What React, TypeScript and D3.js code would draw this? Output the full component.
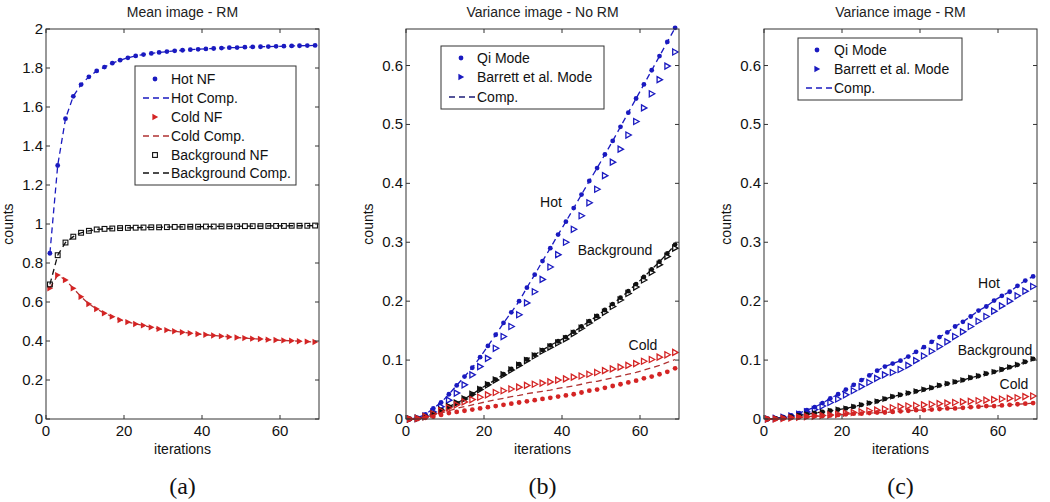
import React from "react";
import * as d3 from "d3";

// ---------- data ----------
const ITER = [1, 3, 5, 7, 9, 11, 13, 15, 17, 19, 21, 23, 25, 27, 29, 31, 33, 35, 37, 39, 41, 43, 45, 47, 49, 51, 53, 55, 57, 59, 61, 63, 65, 67, 69];

const X_TICKS = [0, 20, 40, 60];
const X_TICK_LABELS = ["0", "20", "40", "60"];
const Y_TICKS_A = [0, 0.2, 0.4, 0.6, 0.8, 1, 1.2, 1.4, 1.6, 1.8, 2];
const Y_TICK_LABELS_A = ["0", "0.2", "0.4", "0.6", "0.8", "1", "1.2", "1.4", "1.6", "1.8", "2"];
const Y_TICKS_BC = [0, 0.1, 0.2, 0.3, 0.4, 0.5, 0.6];
const Y_TICK_LABELS_BC = ["0", "0.1", "0.2", "0.3", "0.4", "0.5", "0.6"];

// (a) Mean image - RM
const A_HOT = [0.85, 1.30, 1.54, 1.655, 1.715, 1.755, 1.785, 1.805, 1.825, 1.84, 1.852, 1.862, 1.869, 1.875, 1.88, 1.884, 1.888, 1.891, 1.894, 1.896, 1.898, 1.9, 1.902, 1.904, 1.905, 1.907, 1.908, 1.909, 1.91, 1.911, 1.912, 1.913, 1.914, 1.915, 1.916];
const A_COLD = [0.67, 0.738, 0.713, 0.67, 0.627, 0.59, 0.564, 0.542, 0.525, 0.508, 0.497, 0.487, 0.48, 0.47, 0.462, 0.456, 0.45, 0.445, 0.44, 0.436, 0.432, 0.428, 0.425, 0.421, 0.418, 0.415, 0.412, 0.41, 0.407, 0.405, 0.403, 0.401, 0.399, 0.397, 0.395];
const A_BG = [0.69, 0.84, 0.905, 0.935, 0.955, 0.965, 0.972, 0.975, 0.977, 0.979, 0.98, 0.981, 0.982, 0.983, 0.983, 0.984, 0.985, 0.985, 0.986, 0.986, 0.987, 0.987, 0.988, 0.988, 0.988, 0.989, 0.989, 0.989, 0.99, 0.99, 0.99, 0.991, 0.991, 0.991, 0.992];

// (b) Variance image - No RM
const B_HOT_QI = [0, 0.002, 0.008, 0.018, 0.028, 0.042, 0.057, 0.072, 0.087, 0.105, 0.124, 0.143, 0.163, 0.181, 0.2, 0.223, 0.245, 0.268, 0.29, 0.313, 0.335, 0.358, 0.381, 0.404, 0.426, 0.449, 0.472, 0.496, 0.52, 0.544, 0.568, 0.592, 0.616, 0.64, 0.664];
const B_HOT_BAR = [0, 0.001, 0.005, 0.012, 0.021, 0.032, 0.044, 0.058, 0.075, 0.089, 0.103, 0.12, 0.14, 0.157, 0.177, 0.197, 0.216, 0.237, 0.258, 0.279, 0.3, 0.322, 0.345, 0.367, 0.39, 0.413, 0.436, 0.458, 0.482, 0.505, 0.528, 0.552, 0.576, 0.599, 0.623];
const B_BG_QI = [0, 0.001, 0.004, 0.009, 0.015, 0.021, 0.027, 0.034, 0.042, 0.051, 0.059, 0.067, 0.076, 0.085, 0.093, 0.101, 0.109, 0.117, 0.125, 0.132, 0.139, 0.148, 0.157, 0.166, 0.175, 0.185, 0.195, 0.206, 0.217, 0.229, 0.241, 0.254, 0.267, 0.281, 0.296];
const B_BG_BAR = [0, 0.001, 0.004, 0.009, 0.015, 0.021, 0.027, 0.034, 0.042, 0.05, 0.058, 0.066, 0.075, 0.083, 0.091, 0.099, 0.107, 0.115, 0.122, 0.129, 0.136, 0.145, 0.154, 0.163, 0.172, 0.181, 0.191, 0.202, 0.213, 0.224, 0.236, 0.249, 0.262, 0.276, 0.29];
const B_COLD_QI = [0, 0, 0.002, 0.004, 0.007, 0.01, 0.012, 0.014, 0.016, 0.018, 0.02, 0.022, 0.024, 0.026, 0.028, 0.03, 0.032, 0.034, 0.036, 0.038, 0.04, 0.042, 0.045, 0.048, 0.05, 0.053, 0.056, 0.059, 0.062, 0.065, 0.069, 0.072, 0.076, 0.08, 0.086];
const B_COLD_BAR = [0, 0.001, 0.004, 0.009, 0.014, 0.019, 0.024, 0.029, 0.033, 0.037, 0.041, 0.045, 0.048, 0.051, 0.054, 0.057, 0.059, 0.061, 0.063, 0.066, 0.068, 0.071, 0.073, 0.076, 0.079, 0.082, 0.085, 0.088, 0.091, 0.094, 0.098, 0.101, 0.105, 0.109, 0.113];
const B_COLD_COMP = [0, 0.001, 0.003, 0.006, 0.01, 0.014, 0.018, 0.021, 0.024, 0.027, 0.03, 0.033, 0.035, 0.038, 0.04, 0.043, 0.045, 0.047, 0.049, 0.052, 0.054, 0.056, 0.059, 0.062, 0.064, 0.067, 0.07, 0.073, 0.076, 0.079, 0.083, 0.087, 0.091, 0.096, 0.101];

// (c) Variance image - RM
const C_HOT_QI = [0, 0.001, 0.003, 0.006, 0.01, 0.015, 0.02, 0.027, 0.035, 0.042, 0.05, 0.058, 0.066, 0.074, 0.082, 0.089, 0.094, 0.099, 0.106, 0.114, 0.122, 0.131, 0.139, 0.147, 0.157, 0.165, 0.174, 0.184, 0.191, 0.201, 0.209, 0.216, 0.226, 0.235, 0.242];
const C_HOT_BAR = [0, 0.001, 0.003, 0.005, 0.008, 0.012, 0.016, 0.022, 0.028, 0.034, 0.041, 0.048, 0.055, 0.062, 0.069, 0.075, 0.079, 0.084, 0.091, 0.099, 0.107, 0.115, 0.123, 0.131, 0.14, 0.148, 0.157, 0.166, 0.174, 0.183, 0.192, 0.2, 0.209, 0.217, 0.225];
const C_BG = [0, 0.001, 0.002, 0.004, 0.006, 0.008, 0.01, 0.012, 0.014, 0.016, 0.018, 0.021, 0.024, 0.027, 0.03, 0.034, 0.038, 0.041, 0.044, 0.047, 0.05, 0.053, 0.057, 0.06, 0.063, 0.066, 0.07, 0.073, 0.077, 0.08, 0.084, 0.088, 0.092, 0.097, 0.102];
const C_COLD_BAR = [0, 0, 0.001, 0.002, 0.003, 0.004, 0.005, 0.006, 0.007, 0.008, 0.01, 0.011, 0.012, 0.014, 0.015, 0.017, 0.019, 0.021, 0.022, 0.023, 0.024, 0.025, 0.026, 0.027, 0.028, 0.029, 0.03, 0.031, 0.032, 0.033, 0.034, 0.035, 0.036, 0.038, 0.039];
const C_COLD_QI = [0, 0, 0.001, 0.002, 0.003, 0.004, 0.005, 0.005, 0.006, 0.007, 0.008, 0.009, 0.009, 0.01, 0.011, 0.011, 0.012, 0.013, 0.014, 0.015, 0.015, 0.016, 0.017, 0.018, 0.018, 0.019, 0.02, 0.021, 0.022, 0.022, 0.023, 0.024, 0.025, 0.026, 0.027];

// ---------- style ----------
const BLUE = "#1a1ac0";
const RED = "#d42424";
const DRED = "#b03232";
const BLACK = "#111111";
const NAVY = "#1c1c78";
const SANS = "'Liberation Sans', Arial, sans-serif";
const SERIF = "'Liberation Serif', 'Times New Roman', serif";

type Marker = "circle" | "tri" | "triOpen" | "square" | "none";
type Series = { values: number[]; color: string; marker: Marker; dashed?: boolean; width?: number };
type LegendItem = { label: string; color: string; marker: Marker; dashed?: boolean };

function markerShape(m: Marker, x: number, y: number, color: string, key: string | number) {
  if (m === "circle") return <circle key={key} cx={x} cy={y} r={2.4} fill={color} />;
  if (m === "tri")
    return <path key={key} d={`M${x - 2.6},${y - 3.2}L${x + 3.2},${y}L${x - 2.6},${y + 3.2}Z`} fill={color} />;
  if (m === "triOpen")
    return <path key={key} d={`M${x - 2.4},${y - 3}L${x + 3},${y}L${x - 2.4},${y + 3}Z`} fill="none" stroke={color} strokeWidth={1.3} />;
  if (m === "square")
    return <rect key={key} x={x - 2.4} y={y - 2.4} width={4.8} height={4.8} fill="none" stroke={color} strokeWidth={1.1} />;
  return null;
}

type PanelProps = {
  left: number; right: number; top: number; bottom: number; yMax: number;
  yTicks: number[]; yTickLabels: string[]; title: string; ylabelX: number;
  series: Series[]; legend: { x0: number; y0: number; x1: number; rows: number[]; textX: number; markerX: number; lineX0: number; lineX1: number; items: LegendItem[] };
  notes: { text: string; x: number; y: number }[]; caption: string;
};

function Panel(p: PanelProps) {
  const x = d3.scaleLinear().domain([0, 70]).range([p.left, p.right]);
  const y = d3.scaleLinear().domain([0, p.yMax]).range([p.bottom, p.top]);
  const line = d3.line<number>().x((_, i) => x(ITER[i])).y((v) => y(v));
  const tl = 4;
  const cx = (p.left + p.right) / 2;
  const cy = (p.top + p.bottom) / 2;
  return (
    <g>
      <text x={cx} y={17} textAnchor="middle" fontFamily={SANS} fontSize={14} fill="#222">{p.title}</text>
      {p.series.map((s, si) => (
        <g key={si}>
          {s.dashed && (
            <path d={line(s.values) || ""} fill="none" stroke={s.color} strokeWidth={s.width ?? 1.3} strokeDasharray="6,4" />
          )}
          {s.marker !== "none" && s.values.map((v, i) => markerShape(s.marker, x(ITER[i]), y(v), s.color, i))}
        </g>
      ))}
      <rect x={p.left} y={p.top} width={p.right - p.left} height={p.bottom - p.top} fill="none" stroke="#333" strokeWidth={1} />
      {X_TICKS.map((t, i) => (
        <g key={"x" + t}>
          <line x1={x(t)} x2={x(t)} y1={p.bottom} y2={p.bottom - tl} stroke="#333" />
          <line x1={x(t)} x2={x(t)} y1={p.top} y2={p.top + tl} stroke="#333" />
          <text x={x(t)} y={436} textAnchor="middle" fontFamily={SANS} fontSize={15} fill="#111">{X_TICK_LABELS[i]}</text>
        </g>
      ))}
      {p.yTicks.map((t, i) => (
        <g key={"y" + t}>
          <line x1={p.left} x2={p.left + tl} y1={y(t)} y2={y(t)} stroke="#333" />
          <line x1={p.right} x2={p.right - tl} y1={y(t)} y2={y(t)} stroke="#333" />
          <text x={p.left - 3} y={y(t) + 5} textAnchor="end" fontFamily={SANS} fontSize={15} fill="#111">{p.yTickLabels[i]}</text>
        </g>
      ))}
      <text x={cx} y={454} textAnchor="middle" fontFamily={SANS} fontSize={14} fill="#111">iterations</text>
      <text transform={`translate(${p.ylabelX},${cy}) rotate(-90)`} textAnchor="middle" fontFamily={SANS} fontSize={14} fill="#111">counts</text>
      <rect x={p.legend.x0} y={p.legend.y0} width={p.legend.x1 - p.legend.x0} height={p.legend.rows[p.legend.rows.length - 1] - p.legend.y0 + 12} fill="#fff" stroke="#333" strokeWidth={1} />
      {p.legend.items.map((it, i) => {
        const ry = p.legend.rows[i];
        return (
          <g key={"l" + i}>
            {it.dashed && <line x1={p.legend.lineX0} x2={p.legend.lineX1} y1={ry} y2={ry} stroke={it.color} strokeWidth={1.3} strokeDasharray="6,4" />}
            {it.marker !== "none" && markerShape(it.marker === "triOpen" ? "tri" : it.marker, p.legend.markerX, ry, it.color, "m")}
            <text x={p.legend.textX} y={ry + 5} fontFamily={SANS} fontSize={14} fill="#111">{it.label}</text>
          </g>
        );
      })}
      {p.notes.map((n, i) => (
        <text key={"n" + i} x={n.x} y={n.y} textAnchor="middle" fontFamily={SANS} fontSize={14} fill="#111">{n.text}</text>
      ))}
      <text x={cx} y={494} textAnchor="middle" fontFamily={SERIF} fontSize={24} fill="#111">{p.caption}</text>
    </g>
  );
}

export default function App() {
  return (
    <svg width={1050} height={502} style={{ position: "absolute", left: 0, top: 0, background: "#fff" }}>
      <rect width={1050} height={502} fill="#fff" />
      <Panel
        left={46} right={319} top={29} bottom={419} yMax={2}
        yTicks={Y_TICKS_A} yTickLabels={Y_TICK_LABELS_A} title="Mean image - RM" ylabelX={13}
        series={[
          { values: A_HOT, color: BLUE, marker: "circle", dashed: true },
          { values: A_COLD, color: DRED, marker: "none", dashed: true },
          { values: A_COLD, color: RED, marker: "tri" },
          { values: A_BG, color: BLACK, marker: "square", dashed: true },
        ]}
        legend={{
          x0: 135, y0: 66, x1: 296, rows: [79, 98, 117, 136, 155, 173], textX: 171, markerX: 155, lineX0: 143, lineX1: 170,
          items: [
            { label: "Hot NF", color: BLUE, marker: "circle" },
            { label: "Hot Comp.", color: BLUE, marker: "none", dashed: true },
            { label: "Cold NF", color: RED, marker: "tri" },
            { label: "Cold Comp.", color: DRED, marker: "none", dashed: true },
            { label: "Background NF", color: BLACK, marker: "square" },
            { label: "Background Comp.", color: BLACK, marker: "none", dashed: true },
          ],
        }}
        notes={[]}
        caption="(a)"
      />
      <Panel
        left={406} right={679} top={29} bottom={419} yMax={0.662}
        yTicks={Y_TICKS_BC} yTickLabels={Y_TICK_LABELS_BC} title="Variance image - No RM" ylabelX={373}
        series={[
          { values: B_HOT_QI, color: BLUE, marker: "none", dashed: true },
          { values: B_HOT_QI, color: BLUE, marker: "circle" },
          { values: B_HOT_BAR, color: BLUE, marker: "triOpen" },
          { values: B_BG_QI, color: BLACK, marker: "none", dashed: true },
          { values: B_BG_QI, color: BLACK, marker: "circle" },
          { values: B_BG_BAR, color: BLACK, marker: "triOpen" },
          { values: B_COLD_COMP, color: DRED, marker: "none", dashed: true },
          { values: B_COLD_QI, color: RED, marker: "circle" },
          { values: B_COLD_BAR, color: RED, marker: "triOpen" },
        ]}
        legend={{
          x0: 441, y0: 46, x1: 604, rows: [58, 77, 97], textX: 477, markerX: 461, lineX0: 449, lineX1: 476,
          items: [
            { label: "Qi Mode", color: BLUE, marker: "circle" },
            { label: "Barrett et al. Mode", color: BLUE, marker: "tri" },
            { label: "Comp.", color: NAVY, marker: "none", dashed: true },
          ],
        }}
        notes={[
          { text: "Hot", x: 551, y: 207 },
          { text: "Background", x: 615, y: 255 },
          { text: "Cold", x: 643, y: 350 },
        ]}
        caption="(b)"
      />
      <Panel
        left={764} right={1037} top={29} bottom={419} yMax={0.662}
        yTicks={Y_TICKS_BC} yTickLabels={Y_TICK_LABELS_BC} title="Variance image - RM" ylabelX={731}
        series={[
          { values: C_HOT_QI, color: BLUE, marker: "none", dashed: true },
          { values: C_HOT_QI, color: BLUE, marker: "circle" },
          { values: C_HOT_BAR, color: BLUE, marker: "triOpen" },
          { values: C_BG, color: BLACK, marker: "none", dashed: true },
          { values: C_BG, color: BLACK, marker: "circle" },
          { values: C_BG, color: BLACK, marker: "tri" },
          { values: C_COLD_QI, color: DRED, marker: "none", dashed: true },
          { values: C_COLD_QI, color: RED, marker: "circle" },
          { values: C_COLD_BAR, color: RED, marker: "triOpen" },
        ]}
        legend={{
          x0: 798, y0: 38, x1: 962, rows: [50, 69, 88], textX: 834, markerX: 817, lineX0: 806, lineX1: 833,
          items: [
            { label: "Qi Mode", color: BLUE, marker: "circle" },
            { label: "Barrett et al. Mode", color: BLUE, marker: "tri" },
            { label: "Comp.", color: BLUE, marker: "none", dashed: true },
          ],
        }}
        notes={[
          { text: "Hot", x: 989, y: 288 },
          { text: "Background", x: 995, y: 355 },
          { text: "Cold", x: 1014, y: 389 },
        ]}
        caption="(c)"
      />
    </svg>
  );
}
